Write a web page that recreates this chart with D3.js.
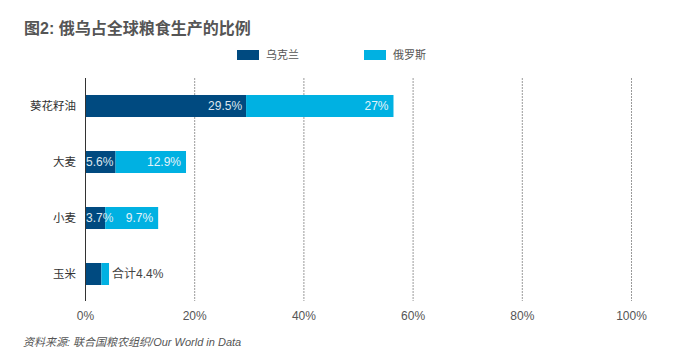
<!DOCTYPE html>
<html>
<head>
<meta charset="utf-8">
<script src="https://cdn.jsdelivr.net/npm/d3@7"></script>
<style>
  body { margin: 0; background: #fff; }
  svg { display: block; font-family: "Liberation Sans", "Noto Sans CJK SC", sans-serif; }
</style>
</head>
<body>
<div id="chart"></div>
<script>
// Dades del gràfic
const categories = ["葵花籽油", "大麦", "小麦", "玉米"];
const ukraine = [29.5, 5.6, 3.7, 3.0];
const russia = [27, 12.9, 9.7, 1.4];
const ukraineLabels = ["29.5%", "5.6%", "3.7%", ""];
const russiaLabels = ["27%", "12.9%", "9.7%", ""];
const totalNotes = ["", "", "", "合计4.4%"];
const seriesNames = ["乌克兰", "俄罗斯"];
const xTicks = [0, 20, 40, 60, 80, 100];

const colors = { ukraine: "#004a80", russia: "#00b1e2" };

const W = 674, H = 362;
const svg = d3.select("#chart").append("svg")
    .attr("width", W)
    .attr("height", H);

const x = d3.scaleLinear().domain([0, 100]).range([85, 631]);
const y = d3.scaleBand().domain(categories).range([78, 302]).paddingInner(0.607).paddingOuter(0.3035);
const gridTop = 78, gridBottom = 301;

// Títol
svg.append("text")
    .attr("x", 24).attr("y", 34)
    .attr("font-size", 16).attr("font-weight", "bold")
    .attr("fill", "#555")
    .text("图2: 俄乌占全球粮食生产的比例");

// Llegenda
const legend = svg.append("g");
const legendX = [237, 364];
seriesNames.forEach((name, i) => {
    legend.append("rect")
        .attr("x", legendX[i]).attr("y", 50)
        .attr("width", 22).attr("height", 10)
        .attr("fill", i === 0 ? colors.ukraine : colors.russia);
    legend.append("text")
        .attr("x", legendX[i] + 29).attr("y", 55)
        .attr("dy", "0.35em")
        .attr("font-size", 11).attr("fill", "#555")
        .text(name);
});

// Línies de la graella
svg.selectAll(".grid")
    .data(xTicks.filter(d => d > 0))
    .join("line")
    .attr("class", "grid")
    .attr("x1", d => x(d) + 0.5).attr("x2", d => x(d) + 0.5)
    .attr("y1", gridTop).attr("y2", gridBottom)
    .attr("stroke", "#9a9a9a")
    .attr("stroke-dasharray", "2,1");

// Barres
const rows = categories.map((c, i) => ({ c, uk: ukraine[i], ru: russia[i], ukl: ukraineLabels[i], rul: russiaLabels[i], note: totalNotes[i] }));

svg.selectAll(".bar-uk")
    .data(rows)
    .join("rect")
    .attr("class", "bar-uk")
    .attr("x", x(0))
    .attr("y", d => y(d.c))
    .attr("width", d => x(d.uk) - x(0))
    .attr("height", y.bandwidth())
    .attr("fill", colors.ukraine);

svg.selectAll(".bar-ru")
    .data(rows)
    .join("rect")
    .attr("class", "bar-ru")
    .attr("x", d => x(d.uk))
    .attr("y", d => y(d.c))
    .attr("width", d => x(d.uk + d.ru) - x(d.uk))
    .attr("height", y.bandwidth())
    .attr("fill", colors.russia);

// Etiquetes dins les barres (si no hi caben, s'alineen a l'esquerra)
svg.selectAll(".lab-uk")
    .data(rows.filter(d => d.ukl))
    .join("text")
    .attr("class", "lab-uk")
    .attr("y", d => y(d.c) + y.bandwidth() / 2)
    .attr("dy", "0.35em")
    .attr("font-size", 12).attr("fill", "#dde6ee")
    .text(d => d.ukl)
    .each(function(d) {
        const w = this.getComputedTextLength();
        const segW = x(d.uk) - x(0);
        if (w + 6 > segW) {
            d3.select(this).attr("x", x(0) + 1).attr("text-anchor", "start");
        } else {
            d3.select(this).attr("x", x(d.uk) - 4).attr("text-anchor", "end");
        }
    });

svg.selectAll(".lab-ru")
    .data(rows.filter(d => d.rul))
    .join("text")
    .attr("x", d => x(d.uk + d.ru) - 5)
    .attr("y", d => y(d.c) + y.bandwidth() / 2)
    .attr("dy", "0.35em")
    .attr("text-anchor", "end")
    .attr("font-size", 12).attr("fill", "#e3f3fa")
    .text(d => d.rul);

svg.selectAll(".note")
    .data(rows.filter(d => d.note))
    .join("text")
    .attr("x", d => x(d.uk + d.ru) + 3)
    .attr("y", d => y(d.c) + y.bandwidth() / 2)
    .attr("dy", "0.35em")
    .attr("font-size", 12).attr("fill", "#444")
    .text(d => d.note);

// Eix zero
svg.append("line")
    .attr("x1", x(0) + 0.5).attr("x2", x(0) + 0.5)
    .attr("y1", gridTop).attr("y2", gridBottom)
    .attr("stroke", "#333");

// Etiquetes de categoria
svg.selectAll(".cat")
    .data(categories)
    .join("text")
    .attr("x", 76)
    .attr("y", d => y(d) + y.bandwidth() / 2)
    .attr("dy", "0.35em")
    .attr("text-anchor", "end")
    .attr("font-size", 11.5).attr("fill", "#333")
    .text(d => d);

// Eix X
const xAxis = svg.append("g")
    .attr("transform", `translate(0,${gridBottom})`)
    .call(d3.axisBottom(x).tickValues(xTicks).tickFormat(d => d + "%").tickSize(0).tickPadding(10));
xAxis.select(".domain").remove();
xAxis.selectAll("text").attr("font-size", 12).attr("fill", "#555")
    .attr("font-family", "Liberation Sans, sans-serif");

// Font
svg.append("text")
    .attr("x", 23).attr("y", 342)
    .attr("dy", "0.35em")
    .attr("font-size", 11).attr("font-style", "italic")
    .attr("fill", "#555")
    .text("资料来源: 联合国粮农组织/Our World in Data");
</script>
</body>
</html>
